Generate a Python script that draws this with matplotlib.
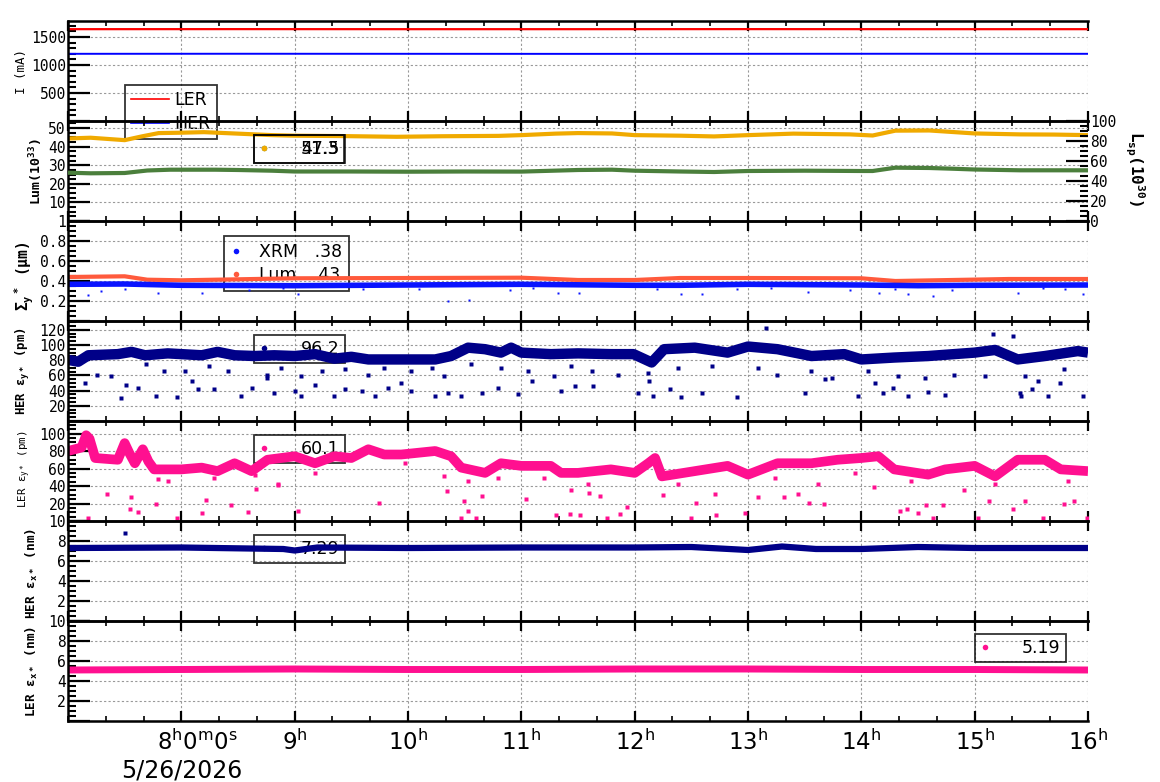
import matplotlib
matplotlib.use('Agg')
import matplotlib.pyplot as plt
import numpy as np
from matplotlib.ticker import MultipleLocator, AutoMinorLocator, FuncFormatter
from matplotlib.lines import Line2D

plt.rcParams['font.family'] = 'DejaVu Sans'
plt.rcParams['mathtext.default'] = 'regular'

MONO = 'DejaVu Sans Mono'

# ---- beam currents (mA)
cur_t = [7.0, 8.5, 10.0, 11.5, 13.0, 14.5, 16.0]
ler_ma = [1640, 1641, 1640, 1640, 1641, 1640, 1640]
her_ma = [1200, 1201, 1200, 1199, 1200, 1201, 1200]

# ---- luminosity (1e33, left) and specific lum (1e30, right)
lum_t = [7.0, 7.2, 7.5, 7.65, 7.8, 8.0, 8.2, 8.5, 8.8, 9.0, 9.4, 9.9, 10.3, 10.8,
         11.0, 11.3, 11.5, 11.8, 12.0, 12.4, 12.7, 13.0, 13.4, 13.9, 14.1, 14.3,
         14.6, 14.8, 15.0, 15.4, 15.7, 16.0]
lum_v = [44.4, 44.8, 43.5, 45.5, 47.3, 47.5, 47.8, 47.0, 46.2, 45.9, 45.7, 45.3, 45.6, 45.8,
         46.2, 47.0, 47.3, 47.1, 46.2, 45.9, 45.5, 46.2, 47.0, 46.6, 46.0, 48.6,
         48.7, 47.9, 47.1, 46.6, 46.5, 46.2]
lsp_t = [7.0, 7.2, 7.5, 7.7, 7.9, 8.3, 8.5, 8.8, 9.0, 9.5, 10.0, 10.5, 11.0, 11.5, 11.8,
         12.0, 12.4, 12.7, 13.0, 13.5, 14.0, 14.1, 14.3, 14.6, 14.8, 15.0, 15.4, 16.0]
lsp_v = [48.3, 47.7, 48.0, 50.5, 51.3, 51.3, 51.0, 50.3, 49.5, 49.5, 49.3, 49.5, 49.4, 51.0, 51.3,
         50.3, 49.5, 49.0, 50.0, 50.3, 50.0, 50.0, 53.3, 53.0, 52.3, 51.5, 50.7, 50.7]

# ---- vertical beam size (um)
sxrm_t = [7.0, 7.5, 8.0, 9.0, 10.0, 11.0, 12.0, 12.4, 13.0, 14.0, 14.5, 15.0, 16.0]
sxrm_v = [0.367, 0.37, 0.357, 0.353, 0.36, 0.367, 0.357, 0.357, 0.367, 0.36, 0.353, 0.357, 0.36]
sxrm_out_t = [7.18, 7.29, 7.79, 8.18, 9.03, 10.35, 10.54, 11.32, 11.51, 12.41, 12.59, 13.53,
              14.16, 14.41, 14.63, 15.38, 15.96, 8.6, 9.6, 10.9, 12.9, 13.9, 7.5, 8.9,
              10.1, 11.1, 12.2, 13.2, 14.3, 14.8, 15.6, 15.8]
sxrm_out_v = [0.257, 0.30, 0.277, 0.277, 0.267, 0.20, 0.213, 0.283, 0.283, 0.273, 0.273, 0.293,
              0.283, 0.273, 0.253, 0.283, 0.273, 0.31, 0.32, 0.31, 0.32, 0.31, 0.325, 0.33,
              0.32, 0.33, 0.325, 0.33, 0.32, 0.31, 0.33, 0.32]
slum_t = [7.0, 7.5, 7.7, 8.0, 8.5, 9.0, 10.0, 11.0, 11.5, 12.0, 12.4, 13.0, 14.0, 14.3,
          14.8, 15.3, 16.0]
slum_v = [0.44, 0.447, 0.413, 0.407, 0.417, 0.427, 0.43, 0.433, 0.41, 0.41, 0.43, 0.43,
          0.427, 0.40, 0.41, 0.42, 0.42]

# ---- HER vertical emittance (pm)
hy_t = [7.0, 7.09, 7.18, 7.44, 7.56, 7.68, 7.88, 8.0, 8.18, 8.32, 8.47, 8.65, 8.82, 9.0,
        9.18, 9.35, 9.5, 9.65, 9.94, 10.24, 10.38, 10.53, 10.68, 10.82, 10.91, 11.0, 11.26,
        11.5, 11.79, 11.99, 12.15, 12.26, 12.53, 12.82, 13.0, 13.26, 13.56, 13.85, 14.0,
        14.29, 14.59, 15.0, 15.18, 15.38, 15.62, 15.91, 16.0]
hy_v = [80.5, 78, 86.5, 88, 91, 86.5, 89, 88, 86.5, 91, 86.5, 85.5, 86.5, 85.5,
        88, 82, 84.5, 81, 81, 81, 85.5, 96.5, 94.5, 90, 96.5, 90, 88,
        89, 88, 88, 77, 94.5, 96.5, 90, 98, 94.5, 85.5, 88, 81,
        83.5, 85.5, 90, 93.5, 81, 85.5, 92, 90]
hy_out_t = [7.15, 7.47, 7.51, 7.62, 7.78, 7.96, 8.09, 8.15, 8.29, 8.53, 8.62, 8.76, 8.82, 9.0,
            9.06, 9.18, 9.35, 9.44, 9.59, 9.71, 9.82, 9.94, 10.03, 10.24, 10.35, 10.47, 10.65,
            10.79, 10.97, 11.09, 11.35, 11.47, 11.63, 12.03, 12.16, 12.13, 12.31, 12.41, 12.59,
            12.9, 13.09, 13.5, 13.68, 13.97, 14.12, 14.19, 14.28, 14.41, 14.59, 14.74, 15.09,
            15.4, 15.41, 15.51, 15.65, 15.75, 15.96, 15.16, 15.34, 13.16,
            7.26, 7.38, 7.69, 7.85, 8.03, 8.24, 8.41, 8.76, 8.88, 9.06, 9.24, 9.44, 9.65,
            9.79, 10.03, 10.21, 10.32, 10.56, 10.82, 11.06, 11.29, 11.44, 11.62, 11.85,
            12.12, 12.38, 12.68, 13.26, 13.56, 13.74, 14.06, 14.32, 14.56, 14.82, 15.44,
            15.56, 15.79]
hy_out_v = [50.4, 30.7, 48, 44, 33, 31.6, 52.6, 41.7, 41.7, 33, 44, 57, 37, 39.5,
            33, 48, 33, 41.7, 39.5, 33, 44, 50, 39.5, 33, 37, 33, 37,
            44, 35, 52.6, 39.5, 46, 46, 37, 33, 52.6, 41.7, 31.6, 37,
            31.6, 70, 37, 55, 33, 50, 37, 44, 33, 38.6, 34, 59,
            37, 33, 41.7, 33, 50, 33, 115, 112, 123,
            61, 59, 74.6, 66, 66, 72, 66, 61, 70, 59, 66, 68, 61,
            70, 66, 70, 59, 74.6, 70, 66, 59, 72, 66, 61,
            63.6, 70, 72, 61, 66, 57, 66, 59, 57, 61, 59,
            52.6, 68]

# ---- LER vertical emittance (pm)
ly_t = [7.0, 7.12, 7.16, 7.19, 7.24, 7.44, 7.5, 7.54, 7.59, 7.66, 7.71, 7.76, 8.0, 8.18,
        8.32, 8.47, 8.62, 8.76, 9.0, 9.18, 9.35, 9.5, 9.65, 9.79, 9.94, 10.24, 10.38, 10.47,
        10.68, 10.82, 11.0, 11.26, 11.35, 11.5, 11.79, 12.0, 12.12, 12.18, 12.24, 12.53,
        12.82, 13.0, 13.26, 13.56, 13.79, 14.0, 14.15, 14.29, 14.59, 14.74, 15.0, 15.18,
        15.38, 15.62, 15.76, 16.0]
ly_v = [80, 84, 98, 94, 72, 70, 89, 78, 66, 82, 68, 59, 59, 61,
        57, 66, 57, 70, 74, 66, 74, 72, 82, 76, 76, 80, 74, 61,
        55, 66, 63, 63, 55, 55, 59, 55, 66, 72, 51, 57,
        63, 53, 66, 66, 70, 72, 74, 59, 53, 59, 63, 51,
        70, 70, 59, 57]
ly_out_t = [7.18, 7.34, 7.56, 7.55, 7.62, 7.78, 7.96, 8.18, 8.22, 8.44, 8.59, 8.66, 8.85, 9.03,
            9.74, 10.34, 10.49, 10.47, 10.53, 10.6, 10.65, 10.79, 11.04, 11.31, 11.43, 11.44,
            11.52, 11.6, 11.69, 11.76, 11.87, 11.93, 12.25, 12.5, 12.54, 12.71, 12.72, 12.97,
            13.09, 13.32, 13.44, 13.54, 13.67, 14.11, 14.34, 14.4, 14.5, 14.57, 14.63, 14.72,
            14.91, 15.03, 15.13, 15.34, 15.44, 15.6, 15.79, 15.88, 15.99,
            7.79, 7.88, 8.29, 8.65, 8.85, 9.18, 9.97, 10.32, 10.53, 11.2, 11.59, 12.38,
            13.24, 13.62, 13.94, 14.44, 15.18, 15.82]
ly_out_v = [3.8, 30.5, 27.8, 14, 10.7, 20, 3.8, 9.5, 24, 18, 10.3, 37, 40.8, 11.4,
            21, 34, 22.9, 3.8, 11.4, 3.8, 28.6, 49.5, 24.8, 6.5, 7.6, 36,
            6.9, 31.6, 28.6, 3.8, 8.4, 16, 29.7, 3.8, 21, 30.5, 6.9, 9.5,
            27.8, 27.8, 31.2, 21, 19, 39.2, 11.4, 14, 9.5, 18, 3.8, 18,
            36, 3.8, 22.9, 14, 22.9, 3.8, 19, 22.9, 3.8,
            47.6, 45.7, 49.5, 52.6, 42, 55, 66.7, 51.4, 45.7, 49.5, 42, 42,
            49.5, 42, 55, 45.7, 42, 45.7]

# ---- horizontal emittances (nm)
hx_t = [7.0, 8.0, 8.9, 9.0, 9.2, 10.0, 11.0, 12.0, 12.5, 13.0, 13.3, 13.6, 14.0, 14.5, 15.0, 16.0]
hx_v = [7.3, 7.35, 7.2, 7.05, 7.35, 7.3, 7.35, 7.35, 7.4, 7.1, 7.45, 7.2, 7.2, 7.4, 7.3, 7.3]
hx_out_t = [7.5]
hx_out_v = [8.8]
lx_t = [7.0, 8.0, 9.0, 10.0, 11.0, 12.0, 13.0, 14.0, 15.0, 16.0]
lx_v = [5.1, 5.15, 5.2, 5.15, 5.15, 5.2, 5.2, 5.15, 5.15, 5.1]

hour_ticks = [9, 10, 11, 12, 13, 14, 15, 16]

C_LER, C_HER = '#ff0000', '#0000ff'
C_LUM, C_LSP = '#f0aa00', '#4b7f3c'
C_XRM, C_SLUM = '#0a14ff', '#ff5a3c'
C_NAVY, C_PINK = '#000088', '#ff1090'

W, H = 1160.0, 782.0
fig = plt.figure(figsize=(11.6, 7.82), dpi=100)
fig.patch.set_facecolor('white')


def zero_blank(v, pos):
    return '' if abs(v) < 1e-9 else '%g' % v


def style(ax, ylim, major, minor_n=4):
    ax.set_facecolor('none')
    ax.set_xlim(7, 16)
    ax.set_ylim(*ylim)
    ax.xaxis.set_major_locator(MultipleLocator(1))
    ax.xaxis.set_minor_locator(MultipleLocator(1 / 3))
    ax.yaxis.set_major_locator(MultipleLocator(major))
    ax.yaxis.set_minor_locator(AutoMinorLocator(minor_n))
    ax.yaxis.set_major_formatter(FuncFormatter(zero_blank))
    ax.tick_params(axis='x', which='both', direction='in', top=True, bottom=True,
                   labelbottom=False)
    ax.tick_params(axis='x', which='major', length=7, width=1.6)
    ax.tick_params(axis='x', which='minor', length=3.5, width=1.2)
    ax.tick_params(axis='y', which='major', direction='in', length=16, width=1.6,
                   labelsize=10.5, pad=1.5, labelfontfamily=MONO)
    ax.tick_params(axis='y', which='minor', direction='in', length=6, width=1.5)
    ax.grid(True, which='major', color='#999999', linestyle=(0, (2, 2)), linewidth=0.8)
    for s in ['top', 'bottom', 'left']:
        ax.spines[s].set_linewidth(1.8)
    ax.spines['right'].set_visible(False)


def ylab(ax, text, xpx, size=9, weight='bold', ypos=0.5):
    ax.text((xpx - 68) / 1020.0, ypos, text, transform=ax.transAxes, rotation=90,
            ha='center', va='center', fontsize=size, fontweight=weight, family=MONO)


def box_legend(ax, handles, labels, xpx, ypx, top, **kw):
    opts = dict(loc='upper left', borderaxespad=0, frameon=True, fancybox=False,
                edgecolor='black', facecolor='none', fontsize=12.5, borderpad=0.3,
                handlelength=0.6, handletextpad=1.8, labelspacing=0.25)
    opts.update(kw)
    leg = ax.legend(handles, labels,
                    bbox_to_anchor=((xpx - 68) / 1020.0, 1 - (ypx - top) / 100.0), **opts)
    leg.get_frame().set_linewidth(1.3)
    leg.set_zorder(1.8)
    return leg


def dot(color):
    return Line2D([], [], linestyle='none', marker='o', markersize=4,
                  markerfacecolor=color, markeredgecolor='none')


axes = []
for k in range(7):
    top = 21 + 100 * k
    ax = fig.add_axes([68 / W, 1 - (top + 100) / H, 1020 / W, 100 / H])
    axes.append(ax)

# ---- panel 1: currents
ax = axes[0]
style(ax, (0, 1786), 500, 5)
ax.plot(cur_t, ler_ma, color=C_LER, lw=1.6)
ax.plot(cur_t, her_ma, color=C_HER, lw=1.4)
ylab(ax, 'I (mA)', 22, size=9, weight='normal')
box_legend(ax, [Line2D([], [], color=C_LER, lw=1.2), Line2D([], [], color=C_HER, lw=1.2)],
           ['LER', 'HER'], 125, 85, 21, handlelength=2.2, handletextpad=0.3,
           labelspacing=0.35, borderpad=0.35)

# ---- panel 2: luminosity
ax = axes[1]
style(ax, (0, 53.8), 10)
ax2 = ax.twinx()
ax2.set_facecolor('none')
ax2.set_ylim(0, 100)
ax2.yaxis.set_major_locator(MultipleLocator(20))
ax2.yaxis.set_minor_locator(AutoMinorLocator(4))
ax2.tick_params(axis='y', which='major', direction='in', length=16, width=1.6,
                labelsize=10.5, pad=1.5, labelfontfamily=MONO)
ax2.tick_params(axis='y', which='minor', direction='in', length=6, width=1.5)
for s in ['top', 'bottom', 'left', 'right']:
    ax2.spines[s].set_visible(False)
ax.plot(lum_t, lum_v, color=C_LUM, lw=3.0, solid_capstyle='butt')
ax2.plot(lsp_t, lsp_v, color=C_LSP, lw=3.0, solid_capstyle='butt')
ylab(ax, 'Lum(10$^{33}$)', 36, size=9.5)
ax2.text((1135 - 68) / 1020.0, 0.52, 'L$_{sp}$(10$^{30}$)', transform=ax2.transAxes,
         rotation=270, ha='center', va='center', fontsize=11.5, fontweight='bold', family=MONO)
leg_a = box_legend(ax2, [dot(C_LSP)], ['51.3'], 254, 135, 121)
ax2.add_artist(leg_a)
box_legend(ax2, [dot(C_LUM)], ['47.5'], 254, 135, 121)

# ---- panel 3: vertical beam size
ax = axes[2]
style(ax, (0, 1.0), 0.2)
ax.plot(slum_t, slum_v, color=C_SLUM, lw=3.0, solid_capstyle='butt')
ax.plot(sxrm_t, sxrm_v, color=C_XRM, lw=4.0, solid_capstyle='butt')
ax.plot(sxrm_out_t, sxrm_out_v, 's', ms=2, mec='none', color=C_XRM)
ylab(ax, '$\\Sigma_y$$^*$ (\u03bcm)', 24, size=10.5, ypos=0.45)
box_legend(ax, [dot(C_XRM), dot(C_SLUM)], ['XRM   .38', 'Lum   .43'], 224, 236, 221,
           handletextpad=1.0, labelspacing=0.3, borderpad=0.4)

# ---- panel 4: HER vertical emittance
ax = axes[3]
style(ax, (0, 131.6), 20)
ax.plot(hy_t, hy_v, color=C_NAVY, lw=7.5, solid_capstyle='butt')
ax.plot(hy_out_t, hy_out_v, 's', ms=2.2, mec='none', color=C_NAVY)
ylab(ax, 'HER \u03b5$_{y*}$ (pm)', 23, size=8.8)
box_legend(ax, [dot(C_NAVY)], ['96.2'], 254, 335, 321)

# ---- panel 5: LER vertical emittance
ax = axes[4]
style(ax, (0, 114.3), 20)
ax.plot(ly_t, ly_v, color=C_PINK, lw=7, solid_capstyle='butt')
ax.plot(ly_out_t, ly_out_v, 's', ms=2.2, mec='none', color=C_PINK)
ylab(ax, 'LER \u03b5$_{y*}$ (pm)', 25, size=7.8, weight='normal', ypos=0.52)
box_legend(ax, [dot(C_PINK)], ['60.1'], 254, 435, 421)

# ---- panel 6: HER horizontal emittance
ax = axes[5]
style(ax, (0, 10), 2)
ax.plot(hx_t, hx_v, color=C_NAVY, lw=4.5, solid_capstyle='butt')
ax.plot(hx_out_t, hx_out_v, 's', ms=2.2, mec='none', color=C_NAVY)
ylab(ax, 'HER \u03b5$_{x*}$ (nm)', 32, size=9.2, ypos=0.48)
box_legend(ax, [dot(C_NAVY)], ['7.29'], 254, 535, 521)

# ---- panel 7: LER horizontal emittance
ax = axes[6]
style(ax, (0, 10), 2)
ax.plot(lx_t, lx_v, color=C_PINK, lw=5, solid_capstyle='butt')
ylab(ax, 'LER \u03b5$_{x*}$ (nm)', 32, size=9.2, ypos=0.5)
box_legend(ax, [dot(C_PINK)], ['5.19'], 975, 634, 621)

ax.set_xticks([8] + hour_ticks)
ax.set_xticklabels([''] + ['%d$^{h}$' % h for h in hour_ticks])
ax.tick_params(axis='x', which='major', labelbottom=True, labelsize=16.5, pad=6)
ax.annotate('8$^{h}$0$^{m}$0$^{s}$', xy=(8, 0), xycoords=('data', 'axes fraction'),
            xytext=(11.5, -6), textcoords='offset points', ha='center', va='top', fontsize=16.5)
ax.annotate('5/26/2026', xy=(8, 0), xycoords=('data', 'axes fraction'),
            xytext=(0, -27), textcoords='offset points', ha='center', va='top', fontsize=17)

fig.savefig('out.png', dpi=100)
